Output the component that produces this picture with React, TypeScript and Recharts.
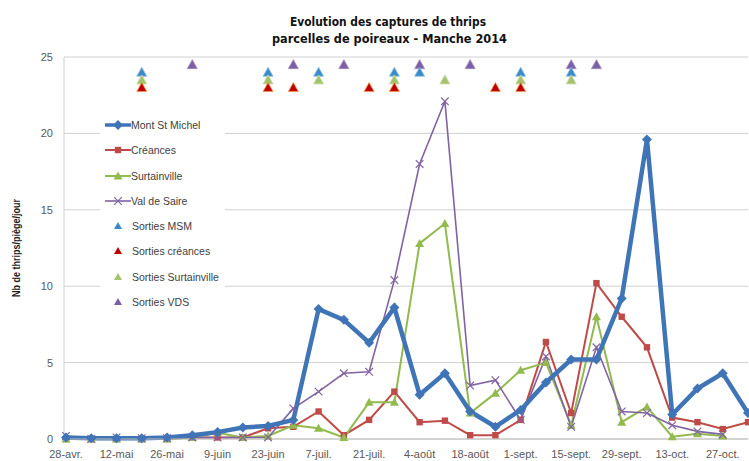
import { LineChart, Line, XAxis, YAxis, CartesianGrid, Legend, Label } from "recharts";

const dates = [
  "28-avr.", "5-mai", "12-mai", "19-mai", "26-mai", "2-juin", "9-juin", "16-juin", "23-juin", "30-juin",
  "7-juil.", "14-juil.", "21-juil.", "28-juil.", "4-août", "11-août", "18-août", "25-août", "1-sept.", "8-sept.",
  "15-sept.", "22-sept.", "29-sept.", "6-oct.", "13-oct.", "20-oct.", "27-oct.", "3-nov.",
];

const montStMichel = [0.1, 0.05, 0.05, 0.05, 0.1, 0.25, 0.45, 0.75, 0.85, 1.25, 8.5, 7.8, 6.3, 8.6, 2.9, 4.3, 1.8, 0.8, 1.9, 3.7, 5.2, 5.2, 9.2, 19.6, 1.6, 3.3, 4.3, 1.7];
const creances = [0, 0, 0, 0, 0, 0.1, 0.1, 0.1, 0.7, 0.8, 1.8, 0.25, 1.25, 3.1, 1.1, 1.2, 0.25, 0.25, 1.25, 6.35, 1.7, 10.2, 8.0, 6.0, 1.4, 1.1, 0.65, 1.1];
const surtainville = [0, 0, 0, 0, 0, 0.1, 0.4, 0.1, 0.2, 0.9, 0.7, 0.1, 2.4, 2.4, 12.8, 14.1, 1.7, 3.0, 4.5, 5.0, 0.9, 8.0, 1.1, 2.1, 0.15, 0.35, 0.2, null];
const valDeSaire = [0.2, 0, 0.1, 0.05, 0.05, 0.1, 0.1, 0.1, 0.1, 2.0, 3.1, 4.3, 4.4, 10.4, 18.0, 22.1, 3.5, 3.85, 1.25, 5.4, 0.8, 6.0, 1.8, 1.7, 0.9, 0.5, 0.3, null];

// sorties (releases) drawn as markers near the top of the chart
const _ = null;
const sortiesMSM = [_, _, _, 24, _, _, _, _, 24, _, 24, _, _, 24, 24, _, _, _, 24, _, 24, _, _, _, _, _, _, _];
const sortiesCreances = [_, _, _, 23, _, _, _, _, 23, 23, _, _, 23, 23, _, _, _, 23, 23, _, _, _, _, _, _, _, _, _];
const sortiesSurtainville = [_, _, _, 23.5, _, _, _, _, 23.5, _, 23.5, _, _, 23.5, _, 23.5, _, _, 23.5, _, 23.5, _, _, _, _, _, _, _];
const sortiesVDS = [_, _, _, _, _, 24.5, _, _, _, 24.5, _, 24.5, _, _, 24.5, _, 24.5, _, _, _, 24.5, 24.5, _, _, _, _, _, _];

const yTicks = [0, 5, 10, 15, 20, 25];

const data = dates.map((date, i) => ({
  date,
  msm: montStMichel[i],
  cre: creances[i],
  sur: surtainville[i],
  vds: valDeSaire[i],
  sMsm: sortiesMSM[i],
  sCre: sortiesCreances[i],
  sSur: sortiesSurtainville[i],
  sVds: sortiesVDS[i],
}));

const BLUE = "#3F74B6";
const RED = "#BE4B48";
const GREEN = "#92BA4F";
const PURPLE = "#8064A2";

const FONT = "'Liberation Sans', Arial, sans-serif";

function marker(kind: string, cx: number, cy: number, color: string, key?: any) {
  if (kind === "diamond") {
    const r = 5;
    return <path key={key} d={`M${cx},${cy - r}L${cx + r},${cy}L${cx},${cy + r}L${cx - r},${cy}Z`} fill={color} />;
  }
  if (kind === "square") {
    return <rect key={key} x={cx - 3.2} y={cy - 3.2} width={6.4} height={6.4} fill={color} />;
  }
  if (kind === "triangle") {
    return <path key={key} d={`M${cx},${cy - 4.5}L${cx + 4.5},${cy + 3.5}L${cx - 4.5},${cy + 3.5}Z`} fill={color} />;
  }
  if (kind === "cross") {
    const r = 3.8;
    return (
      <path key={key} d={`M${cx - r},${cy - r}L${cx + r},${cy + r}M${cx - r},${cy + r}L${cx + r},${cy - r}`} stroke={color} strokeWidth={1.2} fill="none" />
    );
  }
  // big triangle for sorties
  return <path key={key} d={`M${cx},${cy - 5}L${cx + 5},${cy + 4}L${cx - 5},${cy + 4}Z`} fill={color} />;
}

function dotOf(kind: string, color: string, stroke?: string) {
  return (props: any) => {
    const { cx, cy, index, value } = props;
    if (cx == null || cy == null || value == null || (Array.isArray(value) && value[1] == null)) {
      return <g key={`e-${kind}-${index}`} />;
    }
    if (stroke) {
      return (
        <path
          key={`t-${kind}-${index}`}
          d={`M${cx},${cy - 5}L${cx + 5},${cy + 4}L${cx - 5},${cy + 4}Z`}
          fill={color}
          stroke={stroke}
          strokeWidth={0.8}
        />
      );
    }
    return marker(kind, cx, cy, color, `m-${kind}-${index}`);
  };
}

const legendItems = [
  { name: "Mont St Michel", color: BLUE, kind: "diamond", line: 3.5 },
  { name: "Créances", color: RED, kind: "square", line: 2 },
  { name: "Surtainville", color: GREEN, kind: "triangle", line: 2 },
  { name: "Val de Saire", color: PURPLE, kind: "cross", line: 1.6 },
  { name: "Sorties MSM", color: "#3B8BCC", kind: "big", line: 0 },
  { name: "Sorties créances", color: "#C00000", kind: "big", line: 0 },
  { name: "Sorties Surtainville", color: "#A3C36C", kind: "big", line: 0 },
  { name: "Sorties VDS", color: "#7B60A6", kind: "big", line: 0 },
];

function LegendBox() {
  return (
    <div style={{ background: "#fff", width: 125, fontFamily: FONT, fontSize: 10.5, color: "#404040" }}>
      {legendItems.map((it) => (
        <div key={it.name} style={{ position: "relative", height: 25.3 }}>
          <svg width={30} height={25} style={{ position: "absolute", left: 3, top: 0 }}>
            {it.line > 0 && <line x1={2} y1={12} x2={28} y2={12} stroke={it.color} strokeWidth={it.line} />}
            {it.kind === "big" ? (
              <path d="M15,8L19,15L11,15Z" fill={it.color} />
            ) : (
              marker(it.kind, 15, 12, it.color)
            )}
          </svg>
          <span style={{ position: "absolute", left: it.line > 0 ? 31 : 32, top: 6, whiteSpace: "nowrap" }}>{it.name}</span>
        </div>
      ))}
    </div>
  );
}

function App() {
  return (
    <div style={{ position: "absolute", left: 0, top: 0, width: 749, height: 461, background: "#fff" }}>
      <svg width={749} height={50} style={{ position: "absolute", left: 0, top: 0 }}>
        <text x={388} y={26} textAnchor="middle" fontFamily="'DejaVu Sans', Verdana, sans-serif" fontWeight="bold" fontSize={13} textLength={196} lengthAdjust="spacingAndGlyphs" fill="#111">
          Evolution des captures de thrips
        </text>
        <text x={389.5} y={43} textAnchor="middle" fontFamily="'DejaVu Sans', Verdana, sans-serif" fontWeight="bold" fontSize={13} textLength={235} lengthAdjust="spacingAndGlyphs" fill="#111">
          parcelles de poireaux - Manche 2014
        </text>
      </svg>
      <LineChart width={749} height={461} data={data} margin={{ top: 57, right: 1, bottom: 0, left: 0 }}>
        <CartesianGrid vertical={false} stroke="#D0D0D0" />
        <XAxis
          dataKey="date"
          interval={1}
          height={22}
          padding={{ left: 2, right: 0 }}
          tickLine={false}
          axisLine={{ stroke: "#BFBFBF" }}
          tickMargin={5}
          tick={{ fill: "#595959", fontSize: 11, fontFamily: FONT }}
        />
        <YAxis
          width={64}
          domain={[0, 25]}
          ticks={yTicks}
          tickLine={false}
          axisLine={{ stroke: "#D0D0D0" }}
          tickMargin={5}
          tick={{ fill: "#595959", fontSize: 11, fontFamily: FONT }}
        >
          <Label
            content={(p: any) => {
              const vb = p.viewBox || { x: 0, y: 57, height: 382 };
              const cy = vb.y + vb.height / 2;
              return (
                <text x={20} y={cy} transform={`rotate(-90 20 ${cy})`} textAnchor="middle" fontFamily={FONT} fontWeight="bold" fontSize={10} textLength={98} lengthAdjust="spacingAndGlyphs" fill="#222">
                  Nb de thrips/piège/jour
                </text>
              );
            }}
          />
        </YAxis>
        <Legend
          layout="vertical"
          align="center"
          verticalAlign="middle"
          content={() => <LegendBox />}
          wrapperStyle={{ left: 100, top: 113, width: 125 }}
        />
        <Line dataKey="cre" stroke={RED} strokeWidth={2} dot={dotOf("square", RED)} isAnimationActive={false} />
        <Line dataKey="sur" stroke={GREEN} strokeWidth={2} dot={dotOf("triangle", GREEN)} isAnimationActive={false} />
        <Line dataKey="vds" stroke={PURPLE} strokeWidth={1.6} dot={dotOf("cross", PURPLE)} isAnimationActive={false} />
        <Line dataKey="msm" stroke={BLUE} strokeWidth={4.5} dot={dotOf("diamond", BLUE)} isAnimationActive={false} />
        <Line dataKey="sVds" stroke="none" strokeWidth={0} dot={dotOf("big", "#7B60A6", "#A08CC0")} isAnimationActive={false} />
        <Line dataKey="sMsm" stroke="none" strokeWidth={0} dot={dotOf("big", "#3B8BCC", "#8FBCE3")} isAnimationActive={false} />
        <Line dataKey="sSur" stroke="none" strokeWidth={0} dot={dotOf("big", "#A3C36C", "#C8DCA6")} isAnimationActive={false} />
        <Line dataKey="sCre" stroke="none" strokeWidth={0} dot={dotOf("big", "#C00000", "#F79646")} isAnimationActive={false} />
      </LineChart>
    </div>
  );
}

export default App;
